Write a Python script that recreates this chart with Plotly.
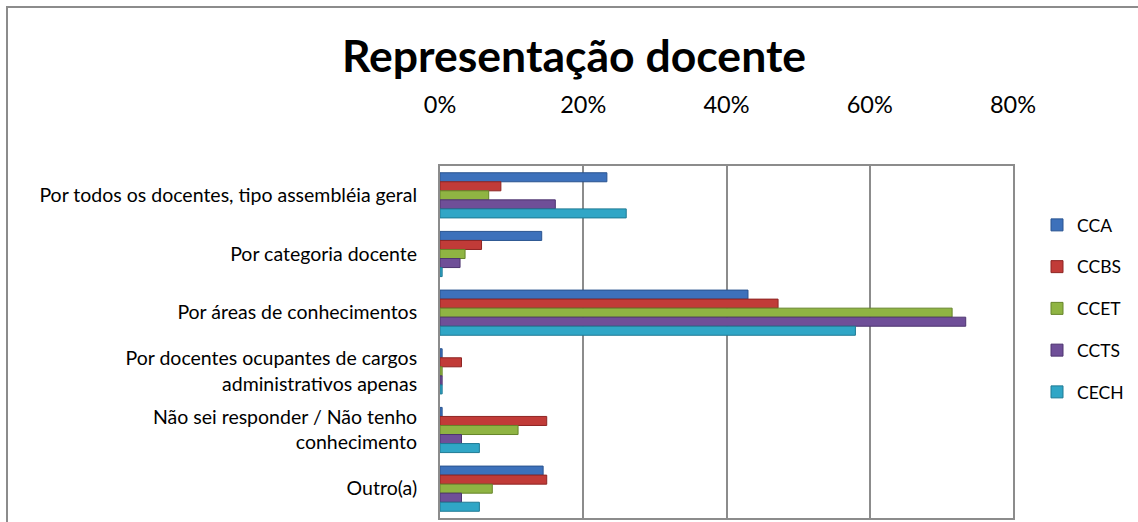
import plotly.graph_objects as go

# categories, top to bottom
categorias = [
    "Por todos os docentes, tipo assembléia geral",
    "Por categoria docente",
    "Por áreas de conhecimentos",
    "Por docentes ocupantes de cargos<br>administrativos apenas",
    "Não sei responder / Não tenho<br>conhecimento",
    "Outro(a)",
]

# percentages
cca = [23.3, 14.2, 43.0, 0.3, 0.3, 14.4]
ccbs = [8.5, 5.8, 47.2, 3.0, 14.9, 14.9]
ccet = [6.8, 3.5, 71.5, 0.3, 10.9, 7.3]
ccts = [16.1, 2.8, 73.4, 0.3, 3.0, 3.0]
cech = [26.0, 0.3, 58.0, 0.3, 5.5, 5.5]

series = [
    ("CCA", cca, "#3d71bb", "#2a5490"),
    ("CCBS", ccbs, "#c13b38", "#8e2523"),
    ("CCET", ccet, "#8fb443", "#66852a"),
    ("CCTS", ccts, "#6f4f98", "#4e3570"),
    ("CECH", cech, "#30a6c6", "#1f7a94"),
]

FONT = "Lato"

fig = go.Figure()
for name, vals, col, edge in series:
    fig.add_trace(go.Bar(
        y=categorias,
        x=vals,
        name=name,
        orientation="h",
        legendgroup=name,
        marker=dict(color=col, line=dict(color=edge, width=1)),
    ))

# plot area in screen pixels (body margin is removed below)
W, H = 1138, 522
L, R, T, B = 440, 1013, 166, 518
pw, ph = R - L, B - T

def px(xs):
    return (xs - L) / pw

def py(ys):
    return (B - ys) / ph

fig.update_layout(
    width=W,
    height=H,
    margin=dict(l=L, r=W - R, t=T, b=H - B, autoexpand=False),
    paper_bgcolor="white",
    plot_bgcolor="white",
    barmode="group",
    bargap=0.23,
    bargroupgap=0,
    font=dict(family=FONT, color="black", size=19),
    title=dict(
        text="<b>Representação docente</b>",
        x=px(574), xanchor="center", xref="paper",
        y=1 - 56 / H, yanchor="middle",
        font=dict(family=FONT, size=44.5, color="black"),
    ),
    legend=dict(
        x=px(1037), y=py(207), xanchor="left", yanchor="top",
        font=dict(family=FONT, size=17.5),
        tracegroupgap=16,
        itemwidth=30,
        bgcolor="rgba(0,0,0,0)",
    ),
    showlegend=True,
)

fig.update_xaxes(
    side="top",
    range=[0, 80],
    dtick=20,
    ticksuffix="%",
    tickfont=dict(family=FONT, size=23.5),
    ticklabelstandoff=42,
    showgrid=True,
    gridcolor="#8c8c8c",
    gridwidth=2,
    zeroline=False,
    showline=True,
    linecolor="#8c8c8c",
    linewidth=2,
    mirror=True,
    ticks="",
    fixedrange=True,
)
fig.update_yaxes(
    autorange="reversed",
    tickfont=dict(family=FONT, size=19.5),
    ticklabelstandoff=17,
    showgrid=False,
    showline=True,
    linecolor="#8c8c8c",
    linewidth=2,
    mirror=True,
    ticks="",
    fixedrange=True,
)

# outer chart border
fig.add_shape(
    type="rect", xref="paper", yref="paper",
    x0=px(7), x1=px(1160), y0=py(540), y1=py(7),
    line=dict(color="#8c8c8c", width=2),
    fillcolor="rgba(0,0,0,0)",
    layer="below",
)

fig.write_html(
    "out.html",
    config={"displayModeBar": False},
    post_script="document.body.style.margin='0px';",
)
